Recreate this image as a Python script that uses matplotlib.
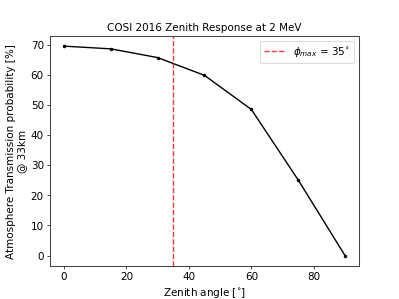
import matplotlib
matplotlib.use("Agg")
import matplotlib.pyplot as plt

# Zenith response data
zenith = [0, 15, 30, 45, 60, 75, 90]
transmission = [69.5, 68.6, 65.7, 59.8, 48.5, 25.1, 0.0]
phi_max = 35

fig, ax = plt.subplots(figsize=(6.4, 4.8), dpi=399 / 6.4)
ax.plot(zenith, transmission, color='black', marker='.', linewidth=1.6)
ax.axvline(phi_max, color='red', alpha=0.8, linestyle='--', linewidth=1.6,
           label=r'$\phi_{max}$ = 35$^{\circ}$')
ax.set_title('COSI 2016 Zenith Response at 2 MeV')
ax.set_xlabel(r'Zenith angle [$^{\circ}$]', fontsize=12)
ax.set_ylabel('Atmosphere Transmission probability [%]\n@ 33km', fontsize=12)
ax.tick_params(labelsize=12)
for s in ax.spines.values():
    s.set_edgecolor('#444444')
    s.set_linewidth(1.2)
ax.legend(fontsize=12)
fig.savefig('out.png', dpi=399 / 6.4)
